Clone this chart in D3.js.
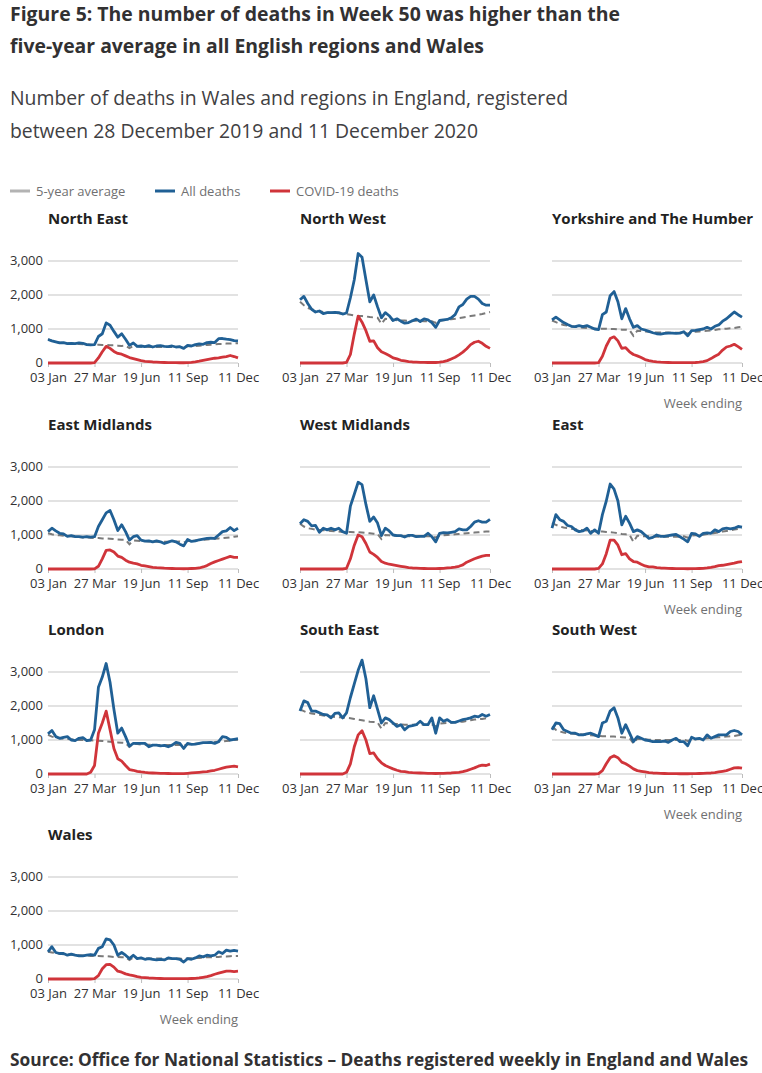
<!DOCTYPE html>
<html><head><meta charset="utf-8">
<script src="https://cdn.jsdelivr.net/npm/d3@7"></script>
<style>body{margin:0;background:#fff;} svg{display:block;font-family:"Open Sans",sans-serif;}</style>
</head><body><svg id="c" width="762" height="1073"></svg>
<script>
// ---- categories ----
const weeks = ["03 Jan","10 Jan","17 Jan","24 Jan","31 Jan","07 Feb","14 Feb","21 Feb","28 Feb","06 Mar","13 Mar","20 Mar","27 Mar","03 Apr","10 Apr","17 Apr","24 Apr","01 May","08 May","15 May","22 May","29 May","05 Jun","12 Jun","19 Jun","26 Jun","03 Jul","10 Jul","17 Jul","24 Jul","31 Jul","07 Aug","14 Aug","21 Aug","28 Aug","04 Sep","11 Sep","18 Sep","25 Sep","02 Oct","09 Oct","16 Oct","23 Oct","30 Oct","06 Nov","13 Nov","20 Nov","27 Nov","04 Dec","11 Dec"];
const xTickLabels = ["03 Jan","27 Mar","19 Jun","11 Sep","11 Dec"];
const yTickValues = [0, 1000, 2000, 3000];
const seriesNames = ["5-year average","All deaths","COVID-19 deaths"];

// ---- North East ----
const northEastAll   = [690,650,620,590,600,570,580,570,590,580,540,530,540,780,860,1180,1110,930,760,860,700,520,590,490,500,480,510,470,500,510,490,480,500,470,480,430,520,500,540,560,550,600,610,600,715,720,700,690,660,650];
const northEastAvg   = [700,650,620,600,590,580,570,570,560,550,550,540,530,540,530,530,520,520,510,500,510,440,500,490,480,480,470,470,470,470,470,470,470,480,480,450,490,500,500,510,520,530,540,550,560,560,570,570,580,580];
const northEastCovid = [0,0,0,0,0,0,0,0,0,0,0,0,10,150,330,490,430,340,280,260,210,160,130,100,70,50,40,30,25,20,15,12,10,10,8,8,12,20,35,55,80,100,120,140,150,170,190,220,190,150];
// ---- North West ----
const northWestAll   = [1860,1960,1750,1580,1500,1530,1450,1480,1480,1490,1480,1440,1470,1920,2450,3220,3110,2450,1800,2000,1650,1330,1480,1390,1250,1300,1230,1170,1190,1240,1290,1220,1300,1270,1190,1050,1250,1270,1280,1330,1420,1650,1720,1880,1960,1960,1880,1750,1700,1700];
const northWestAvg   = [1800,1700,1620,1580,1550,1520,1500,1490,1480,1470,1460,1450,1440,1420,1400,1380,1380,1370,1350,1340,1330,1150,1300,1280,1270,1260,1250,1250,1240,1240,1240,1240,1230,1230,1230,1180,1250,1260,1270,1290,1300,1320,1340,1360,1380,1400,1420,1440,1470,1500];
const northWestCovid = [0,0,0,0,0,0,0,0,0,0,0,0,20,250,850,1380,1200,950,640,650,450,330,280,220,150,120,80,60,40,30,25,20,18,15,15,15,25,40,70,120,170,240,320,420,540,610,640,580,490,430];
// ---- Yorkshire and The Humber ----
const yorkshireAll   = [1270,1350,1270,1190,1130,1080,1070,1100,1070,1100,1050,1000,980,1420,1500,1980,2100,1800,1300,1600,1300,1050,1100,1000,970,930,890,860,850,870,880,880,870,880,920,800,950,960,980,1000,1050,1000,1080,1120,1230,1300,1400,1500,1420,1350];
const yorkshireAvg   = [1250,1200,1150,1120,1100,1080,1060,1050,1040,1030,1020,1010,1000,1010,1010,1000,1000,990,980,980,970,800,950,940,930,920,910,900,900,900,900,890,890,890,890,860,910,920,930,940,950,960,970,990,1000,1010,1020,1030,1050,1060];
const yorkshireCovid = [0,0,0,0,0,0,0,0,0,0,0,0,10,200,500,720,770,650,430,450,330,250,210,160,100,70,50,35,25,20,15,12,10,10,10,10,10,15,25,40,70,130,200,260,380,470,500,550,480,400];
// ---- East Midlands ----
const eastMidlandsAll   = [1100,1200,1120,1050,1030,960,980,950,950,940,950,940,950,1250,1450,1650,1720,1450,1130,1300,1100,850,950,980,850,820,830,800,830,800,750,790,830,800,730,680,870,810,830,860,880,900,910,900,1000,1100,1120,1220,1130,1200];
const eastMidlandsAvg   = [1050,1020,1000,990,980,970,960,950,940,930,930,920,910,910,900,900,890,880,870,860,860,730,840,830,820,820,810,810,800,800,800,800,800,800,810,780,820,830,840,850,860,870,880,890,900,910,920,930,950,960];
const eastMidlandsCovid = [0,0,0,0,0,0,0,0,0,0,0,0,5,80,300,550,560,500,380,340,260,200,170,150,110,90,70,50,40,35,25,20,15,12,10,8,10,15,20,30,60,100,160,210,250,290,330,370,340,340];
// ---- West Midlands ----
const westMidlandsAll   = [1330,1450,1400,1270,1280,1080,1200,1150,1200,1150,1200,1100,1050,1850,2200,2550,2480,1900,1400,1530,1350,980,1200,1120,1000,980,980,940,990,990,950,960,960,1050,950,800,1050,1070,1060,1080,1100,1180,1150,1150,1250,1380,1420,1380,1380,1460];
const westMidlandsAvg   = [1330,1250,1200,1180,1160,1150,1140,1130,1120,1110,1100,1090,1080,1090,1080,1080,1070,1060,1050,1040,1030,880,1000,990,980,980,970,970,960,960,960,960,960,960,960,930,980,990,1000,1010,1020,1030,1040,1050,1060,1070,1080,1090,1100,1100];
const westMidlandsCovid = [0,0,0,0,0,0,0,0,0,0,0,0,20,300,700,1000,950,750,500,430,340,220,170,140,120,100,80,60,40,30,25,20,15,12,10,10,15,20,30,40,55,80,120,200,250,300,340,380,400,400];
// ---- East ----
const eastAll   = [1200,1600,1450,1400,1280,1250,1150,1100,1120,1200,1050,1150,1050,1600,2000,2500,2350,2000,1300,1550,1350,1100,1150,1100,1000,900,930,1000,960,960,980,1000,1020,950,880,800,1050,1030,960,1050,1060,1050,1150,1100,1180,1200,1180,1200,1250,1230];
const eastAvg   = [1350,1300,1250,1220,1200,1180,1170,1150,1140,1130,1120,1110,1100,1100,1090,1080,1070,1050,1030,1020,1010,800,980,970,960,960,950,950,950,950,950,950,950,950,960,920,980,990,1000,1010,1030,1040,1060,1080,1100,1120,1140,1160,1180,1200];
const eastCovid = [0,0,0,0,0,0,0,0,0,0,0,0,20,150,450,850,850,700,420,450,300,220,200,140,90,60,60,40,30,25,20,15,12,10,10,8,10,10,15,20,30,45,70,100,110,130,150,170,200,220];
// ---- London ----
const londonAll   = [1180,1280,1100,1050,1080,1100,1000,980,1050,1070,980,1000,1300,2550,2850,3250,2700,1900,1200,1350,1100,820,900,900,900,900,800,850,850,830,840,800,850,930,900,750,900,870,880,900,920,920,930,900,950,1100,1080,1000,1020,1040];
const londonAvg   = [1150,1100,1070,1050,1040,1030,1020,1010,1000,1000,990,990,980,980,970,960,950,940,930,920,910,800,890,880,870,870,860,860,850,850,850,850,850,850,860,830,870,880,890,900,910,920,930,940,950,960,970,980,1000,1010];
const londonCovid = [0,0,0,0,0,0,0,0,0,0,0,50,250,1200,1500,1850,1300,750,450,380,250,130,110,80,60,45,35,30,25,20,18,15,12,10,10,10,20,30,40,50,60,70,90,110,140,170,200,220,230,210];
// ---- South East ----
const southEastAll   = [1850,2150,2100,1850,1850,1800,1750,1740,1650,1780,1800,1650,1800,2250,2650,3050,3350,2800,1950,2300,1900,1500,1650,1600,1500,1400,1450,1300,1400,1420,1450,1550,1450,1450,1650,1200,1650,1550,1600,1520,1520,1560,1600,1620,1650,1700,1680,1750,1700,1750];
const southEastAvg   = [1900,1850,1800,1780,1760,1740,1720,1700,1690,1680,1670,1660,1650,1640,1620,1600,1580,1560,1540,1530,1520,1330,1500,1490,1480,1470,1460,1450,1450,1450,1450,1450,1450,1450,1460,1400,1480,1490,1500,1510,1520,1530,1540,1560,1580,1600,1610,1620,1640,1660];
const southEastCovid = [0,0,0,0,0,0,0,0,0,0,0,0,50,300,800,1150,1270,1000,600,620,450,330,250,200,150,110,80,70,50,40,35,30,25,20,20,15,20,20,25,30,40,50,70,100,140,180,230,260,250,290];
// ---- South West ----
const southWestAll   = [1300,1500,1480,1300,1250,1200,1200,1150,1150,1180,1200,1150,1100,1500,1550,1850,1950,1650,1200,1450,1200,950,1100,1050,1000,980,950,960,950,970,930,1000,1050,950,950,830,1080,1030,1050,1000,1150,1050,1100,1150,1150,1150,1250,1280,1250,1150];
const southWestAvg   = [1400,1300,1250,1220,1200,1190,1180,1170,1160,1150,1140,1130,1120,1110,1110,1100,1100,1090,1080,1070,1060,900,1040,1030,1020,1010,1000,1000,1000,1000,1000,1000,1000,1000,1010,970,1010,1020,1030,1040,1050,1060,1070,1080,1090,1100,1110,1120,1140,1150];
const southWestCovid = [0,0,0,0,0,0,0,0,0,0,0,0,10,100,300,480,540,480,350,300,230,150,100,80,60,40,30,25,20,15,12,10,10,8,8,8,10,12,15,20,25,30,40,60,80,100,140,180,190,170];
// ---- Wales ----
const walesAll   = [800,950,780,750,750,700,730,700,680,680,700,720,700,900,950,1180,1150,1000,700,780,700,600,700,600,620,580,600,580,560,580,560,620,600,600,580,500,600,580,620,680,650,700,680,700,800,750,850,820,840,820];
const walesAvg   = [800,780,760,740,730,720,710,700,700,690,690,680,680,680,670,670,660,650,650,640,640,560,630,620,610,610,600,600,600,600,600,600,600,600,600,580,610,610,620,620,630,640,640,650,650,660,660,670,680,680];
const walesCovid = [0,0,0,0,0,0,0,0,0,0,0,0,10,100,300,420,430,350,230,200,150,120,100,70,50,40,30,25,20,15,12,10,10,10,10,10,12,15,20,30,50,70,100,140,170,200,230,230,220,230];

const regions = [
  {name:"North East", all:northEastAll, avg:northEastAvg, covid:northEastCovid},
  {name:"North West", all:northWestAll, avg:northWestAvg, covid:northWestCovid},
  {name:"Yorkshire and The Humber", all:yorkshireAll, avg:yorkshireAvg, covid:yorkshireCovid},
  {name:"East Midlands", all:eastMidlandsAll, avg:eastMidlandsAvg, covid:eastMidlandsCovid},
  {name:"West Midlands", all:westMidlandsAll, avg:westMidlandsAvg, covid:westMidlandsCovid},
  {name:"East", all:eastAll, avg:eastAvg, covid:eastCovid},
  {name:"London", all:londonAll, avg:londonAvg, covid:londonCovid},
  {name:"South East", all:southEastAll, avg:southEastAvg, covid:southEastCovid},
  {name:"South West", all:southWestAll, avg:southWestAvg, covid:southWestCovid},
  {name:"Wales", all:walesAll, avg:walesAvg, covid:walesCovid}
];

// ---- styles / layout ----
const BLUE = "#206095", RED = "#d0343a", GREY_DASH = "#7a7a7a", GREY_LEG = "#b3b3b3", GRID = "#d9d9d9";
const colX = [48, 300, 552], plotW = 190;
const rowY = [363, 569, 774, 979], plotH = 102;

const svg = d3.select("#c");

function fit(sel, w){ sel.attr("textLength", w).attr("lengthAdjust","spacingAndGlyphs"); }

// Title
const t1 = svg.append("text").attr("x",10).attr("y",21).attr("font-size",20).attr("font-weight",700).attr("fill","#323132")
  .text("Figure 5: The number of deaths in Week 50 was higher than the"); fit(t1, 610);
const t2 = svg.append("text").attr("x",10).attr("y",53).attr("font-size",20).attr("font-weight",700).attr("fill","#323132")
  .text("five-year average in all English regions and Wales"); fit(t2, 474);
const s1 = svg.append("text").attr("x",10).attr("y",105).attr("font-size",20).attr("fill","#414042")
  .text("Number of deaths in Wales and regions in England, registered"); fit(s1, 558);
const s2 = svg.append("text").attr("x",10).attr("y",138).attr("font-size",20).attr("fill","#414042")
  .text("between 28 December 2019 and 11 December 2020"); fit(s2, 468);

// Legend
const legendItems = [
  {label: seriesNames[0], color: GREY_LEG, x: 10},
  {label: seriesNames[1], color: BLUE, x: 155},
  {label: seriesNames[2], color: RED, x: 270}
];
const lg = svg.append("g");
legendItems.forEach(d => {
  lg.append("line").attr("x1", d.x).attr("x2", d.x+20).attr("y1",191).attr("y2",191)
    .attr("stroke", d.color).attr("stroke-width",3);
  lg.append("text").attr("x", d.x+26).attr("y",191).attr("dy","0.35em").attr("font-size",13)
    .attr("fill","#707071").text(d.label);
});

// Panels
regions.forEach((r, i) => {
  const col = i % 3, row = Math.floor(i / 3);
  const x0 = colX[col], y0 = rowY[row];
  const x = d3.scalePoint().domain(weeks).range([x0, x0 + plotW]).padding(0);
  const y = d3.scaleLinear().domain([0, 3000]).range([y0, y0 - plotH]);
  const g = svg.append("g");

  g.append("text").attr("x", x0).attr("y", y0 - 139).attr("font-size",15).attr("font-weight",700)
    .attr("fill","#222").text(r.name);

  // grid
  g.selectAll(".grid").data(yTickValues).join("line")
    .attr("x1", x0).attr("x2", x0 + plotW).attr("y1", d => y(d)).attr("y2", d => y(d))
    .attr("stroke", GRID).attr("stroke-width", 1.5);

  if (col === 0) {
    g.selectAll(".yl").data(yTickValues).join("text")
      .attr("x", x0 - 5).attr("y", d => y(d) - 1).attr("dy","0.35em").attr("text-anchor","end")
      .attr("font-size",13).attr("fill","#323132").text(d3.format(","));
  }

  // x axis
  const xa = g.append("g").attr("transform", `translate(0,${y0})`)
    .call(d3.axisBottom(x).tickValues(xTickLabels).tickSize(4).tickPadding(6));
  xa.select(".domain").remove();
  xa.selectAll(".tick line").attr("stroke","#bdbdbd");
  xa.selectAll(".tick text").attr("font-size",13).attr("fill","#323132").attr("font-family","Open Sans");

  const line = d3.line().x((d, k) => x(weeks[k])).y(d => y(d));
  g.append("path").datum(r.avg).attr("d", line).attr("fill","none").attr("stroke", GREY_DASH)
    .attr("stroke-width", 2).attr("stroke-dasharray","6,4");
  g.append("path").datum(r.all).attr("d", line).attr("fill","none").attr("stroke", BLUE)
    .attr("stroke-width", 2.8).attr("stroke-linejoin","round");
  g.append("path").datum(r.covid).attr("d", line).attr("fill","none").attr("stroke", RED)
    .attr("stroke-width", 2.8).attr("stroke-linejoin","round");

  if (col === 2 || i === regions.length - 1) {
    g.append("text").attr("x", x0 + plotW).attr("y", y0 + 45).attr("text-anchor","end")
      .attr("font-size",13).attr("fill","#707071").text("Week ending");
  }
});

// Source
const src = svg.append("text").attr("x",10).attr("y",1066).attr("font-size",17).attr("font-weight",700).attr("fill","#323132")
  .text("Source: Office for National Statistics \u2013 Deaths registered weekly in England and Wales"); fit(src, 738);
</script>
</body></html>
